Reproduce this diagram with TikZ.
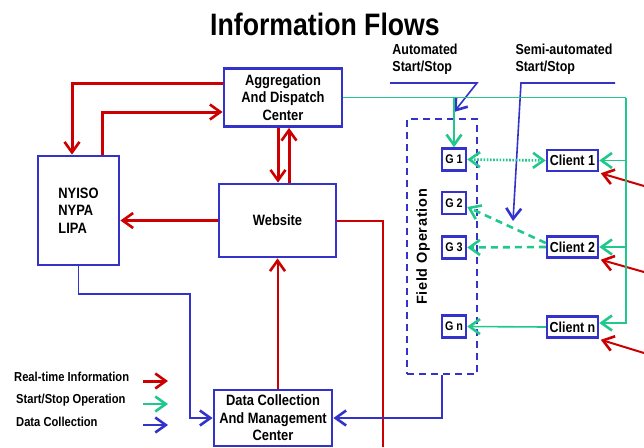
\documentclass[tikz,border=0pt]{standalone}
\usepackage{fontspec}
\usetikzlibrary{arrows.meta}
\newfontfamily\nf[FakeStretch=0.86]{Liberation Sans}
\newfontfamily\nfw[LetterSpace=5]{Liberation Sans}
\definecolor{rd}{RGB}{204,0,0}
\definecolor{bl}{RGB}{51,51,204}
\definecolor{gr}{RGB}{32,200,140}
\tikzset{
  x=1pt, y=-1pt,
  tip/.style={-{Straight Barb[length=10.5pt,width=15pt,line width=2.6pt]}},
  tipb/.style={{Straight Barb[length=10.5pt,width=15pt,line width=2.6pt]}-{Straight Barb[length=10.5pt,width=15pt,line width=2.6pt]}},
  box/.style={draw=bl, line width=2.8pt, fill=white, inner sep=0pt, align=center,
    font=\nf\bfseries\fontsize{15}{17.5}\selectfont},
  gbox/.style={draw=bl, line width=2.5pt, fill=white, inner sep=0pt, minimum width=24pt, minimum height=22pt,
    font=\nf\bfseries\fontsize{12.5}{14}\selectfont},
  cbox/.style={draw=bl, line width=2.5pt, fill=white, inner sep=0pt, minimum width=51pt, minimum height=21pt,
    font=\nf\bfseries\fontsize{14.5}{16}\selectfont},
  lbl/.style={inner sep=0pt, font=\nf\bfseries\fontsize{14.5}{17.5}\selectfont, align=left},
  leg/.style={inner sep=0pt, anchor=west, font=\nf\bfseries\fontsize{13}{15}\selectfont},
  redA/.style={draw=rd, line width=3pt},
  redB/.style={draw=rd, line width=2pt},
  bluA/.style={draw=bl, line width=1.6pt},
  grA/.style={draw=gr, line width=1.6pt},
  grB/.style={draw=gr, line width=2.6pt},
}
\begin{document}
\begin{tikzpicture}
\useasboundingbox (0,0) rectangle (644,447);
% title
\node[inner sep=0pt, font=\nf\bfseries\fontsize{31}{34}\selectfont] (title) at (325,24) {Information Flows};
% main boxes
\node[box, minimum width=118pt, minimum height=58pt] (agg) at (283,97.5) {Aggregation\\And Dispatch\\Center};
\node[box, minimum width=81pt, minimum height=109pt, align=left] (nyiso) at (78.5,210.5) {NYISO\\NYPA\\LIPA};
\node[box, minimum width=117pt, minimum height=73pt] (web) at (277.5,220.5) {Website};
\node[box, minimum width=118pt, minimum height=56pt] (dcm) at (273,418) {Data Collection\\And Management\\Center};
% field operation
\node[draw=bl, line width=2.4pt, dash pattern=on 7pt off 5pt, minimum width=70pt, minimum height=255pt, inner sep=0pt] (field) at (442,246.5) {};
\node[rotate=90, inner sep=0pt, font=\nfw\bfseries\fontsize{14.5}{16}\selectfont] (fieldlbl) at (423,247) {Field Operation};
\node[gbox] (g1) at (454,159.5) {G 1};
\node[gbox] (g2) at (454,203) {G 2};
\node[gbox] (g3) at (454,247.5) {G 3};
\node[gbox] (gn) at (454,326.5) {G n};
\node[cbox] (c1) at (572.5,160.5) {Client 1};
\node[cbox] (c2) at (572.5,247) {Client 2};
\node[cbox] (cn) at (572.5,327) {Client n};
% labels
\node[lbl] (auto) at (425,59) {Automated\\Start/Stop};
\node[lbl] (semi) at (564,59) {Semi-automated\\Start/Stop};
% red connectors
\draw[redA, tip] (agg.west |- 0,83) -| ([xshift=-6.5pt]nyiso.north);
\draw[redA, tip] ([xshift=23.5pt]nyiso.north) |- (agg.west |- 0,112);
\coordinate (a1) at ([xshift=-5pt]agg.south);
\coordinate (a2) at ([xshift=6pt]agg.south);
\draw[redA, tip] (a1) -- (a1 |- web.north);
\draw[redA, tip] (a2 |- web.north) -- (a2);
\draw[redA, tip] (web.west) -- (web.west -| nyiso.east);
\coordinate (rEnd) at (383,447);
\draw[redB] (web.east) -| (rEnd);
\draw[redB, tip] (web.south |- dcm.north) -- (web.south);
\coordinate (e1) at (644,186);
\coordinate (e2) at (644,272);
\coordinate (e3) at (644,353);
\draw[redB, tip] (e1) -- ([xshift=1.5pt,yshift=-1pt]c1.south east);
\draw[redB, tip] (e2) -- ([xshift=1.5pt,yshift=-1pt]c2.south east);
\draw[redB, tip] (e3) -- ([xshift=1.5pt,yshift=-1pt]cn.south east);
% blue connectors
\coordinate (b1) at (190,294);
\draw[bluA, tip] (nyiso.south) |- (b1) |- (dcm.west);
\draw[draw=bl, line width=2.2pt, tip] (field.south) |- (dcm.east);
\coordinate (au1) at (390,83);
\coordinate (au2) at (477,83);
\coordinate (au3) at (454,112);
\draw[bluA, tip] (au1) -- (au2) -- (au3);
\coordinate (se1) at (615,83);
\coordinate (se2) at (521,83);
\coordinate (se3) at (513,221);
\draw[bluA, tip] (se1) -- (se2) -- (se3);
% green connectors
\coordinate (gR) at (626,97.5);
\draw[grA] (agg.east) -- (gR);
\draw[grA, tip] (gR) |- ([yshift=4pt]cn.east);
\draw[grA, tip] (c1.east -| gR) -- (c1.east);
\draw[grA, tip] (c2.east -| gR) -- (c2.east);
\draw[grA, tip] (g1.north |- agg.east) -- (g1.north);
\draw[grB, tipb, dash pattern=on 1.6pt off 1.6pt] (g1.east) -- (c1.west);
\draw[grB, tip, dash pattern=on 7pt off 5pt] ([yshift=4pt]c2.west) -- ([yshift=-4pt]g2.east);
\draw[grB, tip, dash pattern=on 7pt off 5pt] (c2.west) -- (g3.east);
\draw[grA, tip] (cn.west) -- (gn.east);
% legend
\node[leg] (l1) at (14,377) {Real-time Information};
\node[leg] (l2) at (16,400) {Start/Stop Operation};
\node[leg] (l3) at (16,422) {Data Collection};
\coordinate (l1a) at (143,381); \coordinate (l1b) at (168,381);
\coordinate (l2a) at (143,404); \coordinate (l2b) at (168,404);
\coordinate (l3a) at (143,425); \coordinate (l3b) at (168,425);
\draw[redA, tip] (l1a) -- (l1b);
\draw[draw=gr, line width=2.8pt, tip] (l2a) -- (l2b);
\draw[draw=bl, line width=2.2pt, tip] (l3a) -- (l3b);
\end{tikzpicture}
\end{document}
